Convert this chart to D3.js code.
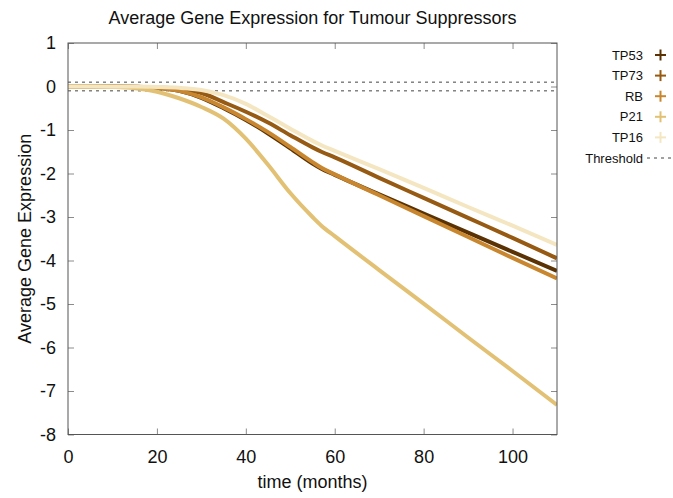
<!DOCTYPE html>
<html>
<head>
<meta charset="utf-8">
<script src="https://cdn.jsdelivr.net/npm/d3@7"></script>
<style>
  html, body { margin: 0; padding: 0; background: #fff; }
  svg { display: block; font-family: "Liberation Sans", Arial, sans-serif; }
</style>
</head>
<body>
<svg id="chart" width="673" height="498"></svg>
<script>
// Sample times (months) and mean expression per gene
const months = [0, 5, 10, 15, 20, 25, 30, 35, 40, 45, 50, 55, 57, 60, 70, 80, 90, 100, 110];
const tp53 = [0, 0, 0, -0.005, -0.03, -0.1, -0.26, -0.5, -0.77, -1.08, -1.42, -1.77, -1.89, -2.03, -2.48, -2.92, -3.36, -3.8, -4.24];
const tp73 = [0, 0, 0, -0.005, -0.02, -0.06, -0.15, -0.36, -0.58, -0.83, -1.12, -1.4, -1.5, -1.63, -2.1, -2.56, -3.02, -3.48, -3.95];
const rb   = [0, 0, 0, -0.005, -0.03, -0.1, -0.25, -0.48, -0.75, -1.05, -1.39, -1.74, -1.87, -2.02, -2.5, -2.98, -3.46, -3.94, -4.41];
const p21  = [0, 0, -0.01, -0.04, -0.12, -0.27, -0.47, -0.74, -1.2, -1.8, -2.45, -3.0, -3.2, -3.44, -4.22, -4.99, -5.77, -6.54, -7.32];
const tp16 = [0, 0, 0, 0, -0.01, -0.03, -0.08, -0.2, -0.4, -0.68, -0.97, -1.25, -1.35, -1.48, -1.9, -2.33, -2.77, -3.2, -3.64];

const seriesNames = ["TP53", "TP73", "RB", "P21", "TP16"];
const seriesValues = [tp53, tp73, rb, p21, tp16];
const seriesColors = ["#5a3203", "#965a12", "#c8862e", "#e2c174", "#f5e6c2"];
const threshold = [0.1, -0.1];

const xTicks = [0, 20, 40, 60, 80, 100];
const yTicks = [1, 0, -1, -2, -3, -4, -5, -6, -7, -8];

const svg = d3.select("#chart");
const plot = { left: 68, right: 557, top: 43, bottom: 434.5 };

const x = d3.scaleLinear().domain([0, 110]).range([plot.left, plot.right]);
const y = d3.scaleLinear().domain([-8, 1]).range([plot.bottom, plot.top]);

// clip region for the curves
svg.append("defs").append("clipPath").attr("id", "clip")
  .append("rect")
  .attr("x", plot.left).attr("y", plot.top)
  .attr("width", plot.right - plot.left).attr("height", plot.bottom - plot.top);

// inward ticks on all four sides, plain hyphen for negatives
const tickLen = 6;
const tickColor = "#8c8c8c";
const fmt = d => String(d);
const axisLeft = d3.axisLeft(y).tickValues(yTicks).tickSize(-tickLen).tickPadding(12).tickFormat(fmt);
const axisRight = d3.axisRight(y).tickValues(yTicks).tickSize(-tickLen).tickFormat("");
const axisBottom = d3.axisBottom(x).tickValues(xTicks).tickSize(-tickLen).tickPadding(16).tickFormat(fmt);
const axisTop = d3.axisTop(x).tickValues(xTicks).tickSize(-tickLen).tickFormat("");

function styleAxis(g) {
  g.select(".domain").remove();
  g.selectAll(".tick line").attr("stroke", tickColor);
  g.selectAll(".tick text").attr("fill", "#111").style("font-size", "18px")
    .style("font-family", '"Liberation Sans", Arial, sans-serif');
}

svg.append("g").attr("transform", `translate(${plot.left},0)`).call(axisLeft).call(styleAxis);
svg.append("g").attr("transform", `translate(${plot.right},0)`).call(axisRight).call(styleAxis);
svg.append("g").attr("transform", `translate(0,${plot.bottom})`).call(axisBottom).call(styleAxis);
svg.append("g").attr("transform", `translate(0,${plot.top})`).call(axisTop).call(styleAxis);

// threshold band
svg.append("g").attr("clip-path", "url(#clip)")
  .selectAll("line").data(threshold).join("line")
  .attr("x1", plot.left).attr("x2", plot.right)
  .attr("y1", d => y(d)).attr("y2", d => y(d))
  .attr("stroke", "#444").attr("stroke-width", 1).attr("stroke-dasharray", "3,4");

// expression curves
const line = d3.line()
  .x((d, i) => x(months[i]))
  .y(d => y(d))
  .curve(d3.curveMonotoneX);

svg.append("g").attr("clip-path", "url(#clip)")
  .selectAll("path").data(seriesValues).join("path")
  .attr("d", d => line(d))
  .attr("fill", "none")
  .attr("stroke", (d, i) => seriesColors[i])
  .attr("stroke-width", 4)
  .attr("stroke-linejoin", "round");

// plot frame
svg.append("rect")
  .attr("x", plot.left).attr("y", plot.top)
  .attr("width", plot.right - plot.left).attr("height", plot.bottom - plot.top)
  .attr("fill", "none").attr("stroke", "#555").attr("stroke-width", 1);

// title and axis labels
svg.append("text").attr("x", (plot.left + plot.right) / 2).attr("y", 24)
  .attr("text-anchor", "middle").style("font-size", "18px").attr("fill", "#111")
  .text("Average Gene Expression for Tumour Suppressors");

svg.append("text").attr("x", (plot.left + plot.right) / 2).attr("y", 488)
  .attr("text-anchor", "middle").style("font-size", "18px").attr("fill", "#111")
  .text("time (months)");

svg.append("text")
  .attr("transform", `translate(31,${(plot.top + plot.bottom) / 2}) rotate(-90)`)
  .attr("text-anchor", "middle").style("font-size", "18px").attr("fill", "#111")
  .text("Average Gene Expression");

// legend
const legend = svg.append("g");
const legendY0 = 55, legendStep = 20.6;
const legendItems = seriesNames.map((n, i) => ({ name: n, color: seriesColors[i] }));
legendItems.forEach((it, i) => {
  const cy = legendY0 + i * legendStep;
  legend.append("text").attr("x", 643).attr("y", cy + 4.5)
    .attr("text-anchor", "end").style("font-size", "13px").attr("fill", "#111").text(it.name);
  legend.append("line").attr("x1", 655).attr("x2", 666).attr("y1", cy).attr("y2", cy)
    .attr("stroke", it.color).attr("stroke-width", 2);
  legend.append("line").attr("x1", 660.5).attr("x2", 660.5).attr("y1", cy - 5.5).attr("y2", cy + 5.5)
    .attr("stroke", it.color).attr("stroke-width", 2);
});
const thY = legendY0 + seriesNames.length * legendStep;
legend.append("text").attr("x", 643).attr("y", thY + 4.5)
  .attr("text-anchor", "end").style("font-size", "13px").attr("fill", "#111").text("Threshold");
legend.append("line").attr("x1", 647).attr("x2", 673).attr("y1", thY).attr("y2", thY)
  .attr("stroke", "#444").attr("stroke-width", 1).attr("stroke-dasharray", "3,4");
</script>
</body>
</html>
